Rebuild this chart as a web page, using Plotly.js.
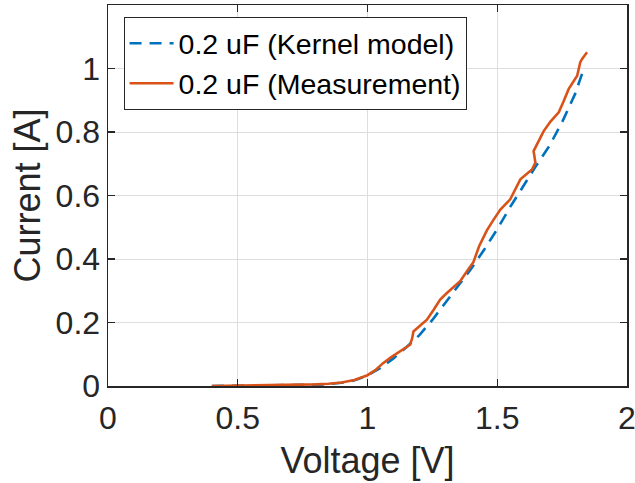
<!DOCTYPE html>
<html>
<head>
<meta charset="utf-8">
<script src="https://cdn.plot.ly/plotly-3.0.1.min.js"></script>
<style>
html,body{margin:0;padding:0;background:#fff;}
#chart{width:635px;height:483px;}
</style>
</head>
<body>
<div id="chart"></div>
<script>
// Kernel model series
const kernelV = [0.40,0.50,0.60,0.70,0.80,0.85,0.90,0.95,1.00,1.05,1.10,1.15,1.20,1.25,1.30,1.35,1.40,1.45,1.50,1.55,1.60,1.65,1.70,1.75,1.80,1.836];
const kernelI = [0,0.0005,0.001,0.002,0.004,0.006,0.010,0.018,0.033,0.057,0.087,0.122,0.160,0.208,0.262,0.315,0.370,0.430,0.494,0.564,0.630,0.694,0.755,0.831,0.920,1.005];
// Measurement series
const measV = [0.40,0.50,0.60,0.70,0.80,0.85,0.90,0.95,1.00,1.03,1.06,1.09,1.118,1.145,1.164,1.172,1.177,1.20,1.229,1.255,1.28,1.306,1.357,1.388,1.408,1.43,1.46,1.486,1.512,1.55,1.589,1.634,1.647,1.640,1.679,1.705,1.737,1.755,1.775,1.808,1.820,1.827,1.846];
const measI = [0,0.001,0.002,0.003,0.005,0.007,0.011,0.019,0.034,0.050,0.072,0.090,0.106,0.120,0.130,0.150,0.172,0.188,0.209,0.240,0.272,0.293,0.330,0.367,0.390,0.440,0.490,0.524,0.556,0.588,0.651,0.682,0.704,0.740,0.803,0.833,0.862,0.895,0.935,0.977,1.020,1.030,1.051];
const seriesNames = ["0.2 uF (Kernel model)", "0.2 uF (Measurement)"];
const xTicks = [0,0.5,1,1.5,2];
const xTickText = ["0","0.5","1","1.5","2"];
const yTicks = [0,0.2,0.4,0.6,0.8,1];
const yTickText = ["0","0.2","0.4","0.6","0.8","1"];

const FONT = "Liberation Sans, Arial, Helvetica, sans-serif";
const traces = [
  {x: kernelV, y: kernelI, name: seriesNames[0], mode: "lines",
   line: {color: "#0072BD", width: 2.6, dash: "12px,8px"}},
  {x: measV, y: measI, name: seriesNames[1], mode: "lines",
   line: {color: "#D95319", width: 2.6}}
];
const axisCommon = {
  showline: true, mirror: "ticks", linecolor: "#262626", linewidth: 1.5,
  ticks: "inside", ticklen: 7, tickwidth: 1.3, tickcolor: "#262626",
  showgrid: true, gridcolor: "#dedede", gridwidth: 1, zeroline: false,
  ticklabeloverflow: "allow",
  tickfont: {family: FONT, size: 32, color: "#262626"}
};
const layout = {
  width: 635, height: 483,
  margin: {l: 108, r: 8, t: 5, b: 97},
  paper_bgcolor: "#fff", plot_bgcolor: "#fff",
  showlegend: true,
  xaxis: Object.assign({}, axisCommon, {
    range: [0, 2], tickmode: "array", tickvals: xTicks, ticktext: xTickText,
    ticklabelstandoff: 3,
    title: {text: "Voltage [V]", font: {family: FONT, size: 36, color: "#262626"}, standoff: 13}
  }),
  yaxis: Object.assign({}, axisCommon, {
    range: [0, 1.2], tickmode: "array", tickvals: yTicks, ticktext: yTickText,
    title: {text: "Current [A]", font: {family: FONT, size: 36, color: "#262626"}, standoff: 4}
  }),
  legend: {
    x: 0.03, y: 0.968, xanchor: "left", yanchor: "top",
    bgcolor: "#fff", bordercolor: "#262626", borderwidth: 1,
    font: {family: FONT, size: 28.5, color: "#000"},
    itemwidth: 44, tracegroupgap: 0
  }
};
Plotly.newPlot("chart", traces, layout, {staticPlot: true, displayModeBar: false});
</script>
</body>
</html>
